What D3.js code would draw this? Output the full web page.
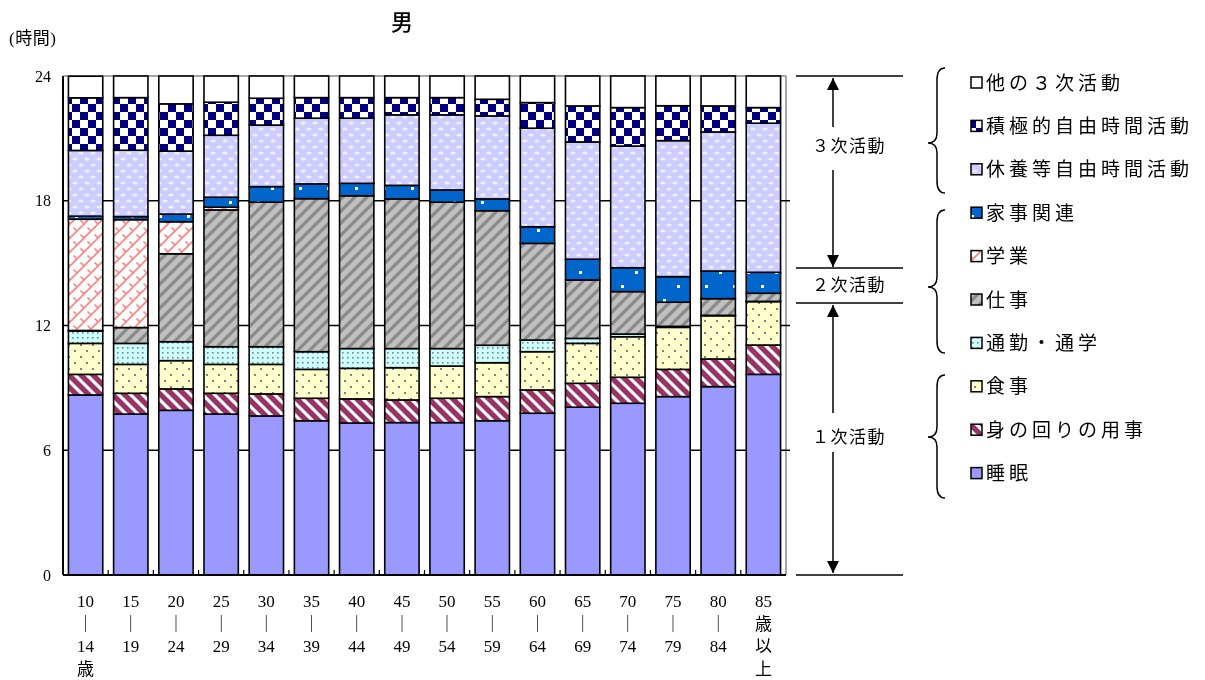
<!DOCTYPE html>
<html><head><meta charset="utf-8">
<script src="https://cdn.jsdelivr.net/npm/d3@7"></script>
<style>
body{margin:0;background:#fff;}
svg{display:block;will-change:transform;}
.jp{font-family:"Liberation Serif","Noto Sans CJK JP",serif;}
</style></head>
<body><svg id="c" width="1205" height="680"></svg>
<script>
// ---- data ----
const ageLabels = [
  ["10","｜","14","歳"],["15","｜","19"],["20","｜","24"],["25","｜","29"],
  ["30","｜","34"],["35","｜","39"],["40","｜","44"],["45","｜","49"],
  ["50","｜","54"],["55","｜","59"],["60","｜","64"],["65","｜","69"],
  ["70","｜","74"],["75","｜","79"],["80","｜","84"],["85","歳","以","上"]
];
const categories = ageLabels.map(d => d.join(""));
const seriesNames = ["睡眠","身の回りの用事","食事","通勤・通学","仕事","学業","家事関連","休養等自由時間活動","積極的自由時間活動","他の３次活動"];
const sleep    = [8.66,7.74,7.92,7.74,7.65,7.42,7.31,7.33,7.33,7.42,7.78,8.07,8.26,8.58,9.06,9.65];
const personal = [0.99,1.00,1.03,1.00,1.06,1.08,1.16,1.09,1.17,1.16,1.12,1.15,1.25,1.31,1.33,1.41];
const meal     = [1.49,1.39,1.36,1.39,1.42,1.39,1.47,1.55,1.55,1.63,1.84,1.92,1.95,2.02,2.08,2.09];
const commute  = [0.60,1.01,0.91,0.85,0.85,0.85,0.95,0.92,0.84,0.84,0.56,0.24,0.13,0.05,0.02,0.01];
const work     = [0.02,0.76,4.23,6.58,6.95,7.36,7.35,7.20,7.04,6.47,4.65,2.81,2.04,1.16,0.80,0.39];
const study    = [5.35,5.19,1.54,0.13,0,0,0,0,0,0,0,0,0,0,0,0];
const housework= [0.15,0.15,0.37,0.48,0.75,0.71,0.60,0.65,0.59,0.57,0.80,1.00,1.15,1.23,1.33,1.01];
const rest     = [3.16,3.19,3.03,2.98,2.96,3.16,3.13,3.39,3.61,3.99,4.74,5.64,5.85,6.54,6.69,7.17];
const active   = [2.53,2.53,2.27,1.59,1.29,0.99,0.99,0.83,0.83,0.80,1.23,1.73,1.85,1.68,1.25,0.75];
const other    = [1.04,1.04,1.34,1.26,1.07,1.04,1.04,1.04,1.04,1.12,1.28,1.44,1.52,1.43,1.44,1.52];
const seriesValues = [sleep,personal,meal,commute,work,study,housework,rest,active,other];
const yTicks = [0,6,12,18,24];
const groupBounds = [0,13.08,14.77,24];
const groupLabels = ["１次活動","２次活動","３次活動"];

// ---- build ----
const rows = categories.map((c,i)=>{const r={cat:c}; seriesNames.forEach((s,k)=>r[s]=seriesValues[k][i]); return r;});
const stacked = d3.stack().keys(seriesNames)(rows);

const svg = d3.select("#c");
const x = d3.scaleBand().domain(categories).range([63,786]).paddingInner(0.24).paddingOuter(0.12);
const y = d3.scaleLinear().domain([0,24]).range([575,76]);

// patterns
const defs = svg.append("defs");
function pat(id,w,h,draw){const p=defs.append("pattern").attr("id",id).attr("patternUnits","userSpaceOnUse").attr("width",w).attr("height",h); draw(p); return `url(#${id})`;}
const fills = {};
fills["睡眠"] = "#9999ff";
fills["身の回りの用事"] = pat("pPers",12,12,p=>{p.append("rect").attr("width",12).attr("height",12).attr("fill","#993366");
  p.append("path").attr("d","M-3,-3L15,15M-9,3L3,15M3,-9L15,3").attr("stroke","#fff").attr("stroke-width",3.2);});
fills["食事"] = pat("pMeal",12,12,p=>{p.append("rect").attr("width",12).attr("height",12).attr("fill","#ffffcc");
  p.append("rect").attr("x",2).attr("y",2).attr("width",2).attr("height",2).attr("fill","#808080");
  p.append("rect").attr("x",8).attr("y",8).attr("width",2).attr("height",2).attr("fill","#808080");});
fills["通勤・通学"] = pat("pComm",5,5,p=>{p.append("rect").attr("width",5).attr("height",5).attr("fill","#ccffff");
  p.append("rect").attr("x",2).attr("y",2).attr("width",1.6).attr("height",1.6).attr("fill","#808080");});
fills["仕事"] = pat("pWork",12,12,p=>{p.append("rect").attr("width",12).attr("height",12).attr("fill","#c0c0c0");
  p.append("path").attr("d","M-3,3L3,-3M0,12L12,0M9,15L15,9").attr("stroke","#8a8a8a").attr("stroke-width",3.2);});
fills["学業"] = pat("pStudy",14,14,p=>{p.append("rect").attr("width",14).attr("height",14).attr("fill","#fff");
  p.append("path").attr("d","M0,14L14,0M-7,7L7,-7M7,21L21,7M3.5,3.5L7,7M10.5,10.5L14,14").attr("stroke","#ff8080").attr("stroke-width",1.6).attr("fill","none");});
fills["家事関連"] = pat("pHouse",28,28,p=>{p.append("rect").attr("width",28).attr("height",28).attr("fill","#0066cc");
  p.append("rect").attr("x",5).attr("y",5).attr("width",3).attr("height",3).attr("fill","#fff");
  p.append("rect").attr("x",19).attr("y",19).attr("width",3).attr("height",3).attr("fill","#fff");});
fills["休養等自由時間活動"] = pat("pRest",12,12,p=>{p.append("rect").attr("width",12).attr("height",12).attr("fill","#ccccff");
  p.append("ellipse").attr("cx",3).attr("cy",3).attr("rx",2.6).attr("ry",1.6).attr("fill","#f0f0ff");
  p.append("ellipse").attr("cx",9).attr("cy",9).attr("rx",2.6).attr("ry",1.6).attr("fill","#f0f0ff");});
fills["積極的自由時間活動"] = pat("pAct",16,16,p=>{p.append("rect").attr("width",16).attr("height",16).attr("fill","#fff");
  p.append("rect").attr("width",8).attr("height",8).attr("fill","#000080");
  p.append("rect").attr("x",8).attr("y",8).attr("width",8).attr("height",8).attr("fill","#000080");});
fills["他の３次活動"] = "#ffffff";

// plot frame
svg.append("line").attr("x1",63).attr("x2",786).attr("y1",y(24)).attr("y2",y(24)).attr("stroke","#888").attr("stroke-width",1.5);
svg.append("line").attr("x1",786).attr("x2",786).attr("y1",y(24)).attr("y2",y(0)).attr("stroke","#888").attr("stroke-width",1.5);
// gridlines
svg.append("g").selectAll("line").data(yTicks.filter(t=>t>0&&t<24)).join("line")
  .attr("x1",63).attr("x2",790).attr("y1",d=>y(d)).attr("y2",d=>y(d)).attr("stroke","#000").attr("stroke-width",1.5);

// bars
const g = svg.append("g");
stacked.forEach(s=>{
  g.append("g").selectAll("rect").data(s.filter(d=>d[1]-d[0]>0.004)).join("rect")
    .attr("x",d=>x(d.data.cat)).attr("width",x.bandwidth())
    .attr("y",d=>y(d[1])).attr("height",d=>y(d[0])-y(d[1]))
    .attr("fill",fills[s.key]).attr("stroke","#000").attr("stroke-width",1.6);
});

// axes
svg.append("line").attr("x1",63).attr("x2",63).attr("y1",y(24)).attr("y2",y(0)).attr("stroke","#000").attr("stroke-width",2);
svg.append("line").attr("x1",63).attr("x2",786).attr("y1",y(0)).attr("y2",y(0)).attr("stroke","#000").attr("stroke-width",2);
const bounds = categories.slice(1).map(c=>x(c)-x.step()*x.paddingInner()/2);
svg.append("g").selectAll("line").data(bounds).join("line")
  .attr("x1",d=>d).attr("x2",d=>d).attr("y1",y(0)).attr("y2",y(0)-5).attr("stroke","#000").attr("stroke-width",1.2);
svg.append("g").selectAll("text").data(yTicks).join("text").attr("class","jp")
  .attr("x",51).attr("y",d=>y(d)).attr("dy","0.35em").attr("text-anchor","end").attr("font-size",16).text(d=>d);
svg.append("text").attr("class","jp").attr("x",9).attr("y",38).attr("dy","0.35em").attr("font-size",17).attr("letter-spacing",0.5).text("(時間)");
svg.append("text").attr("x",402).attr("y",22).attr("dy","0.35em").attr("text-anchor","middle")
  .attr("font-family","'Noto Sans CJK JP'").attr("font-size",22).attr("font-weight",500).text("男");

// x labels
const xl = svg.append("g");
ageLabels.forEach((lines,i)=>{
  const cx = x(categories[i])+x.bandwidth()/2;
  lines.forEach((t,j)=>{
    xl.append("text").attr("class","jp").attr("x",cx).attr("y",601+j*22.7).attr("dy","0.35em")
      .attr("text-anchor","middle").attr("font-size",17).attr("fill","#000").text(t);
  });
});

// group annotation
const ax = 833, lx0 = 796, lx1 = 903;
svg.append("g").selectAll("line").data(groupBounds).join("line")
  .attr("x1",lx0).attr("x2",lx1).attr("y1",d=>y(d)).attr("y2",d=>y(d)).attr("stroke","#000").attr("stroke-width",1.5);
defs.append("marker").attr("id","arr").attr("viewBox","0 0 10 10").attr("refX",10).attr("refY",5)
  .attr("markerWidth",12).attr("markerHeight",12).attr("markerUnits","userSpaceOnUse").attr("orient","auto")
  .append("path").attr("d","M0,0L10,5L0,10Z").attr("fill","#000");
function arrowSeg(yFrom,yTo,withMarker){
  const l=svg.append("line").attr("x1",ax).attr("x2",ax).attr("y1",yFrom).attr("y2",yTo).attr("stroke","#000").attr("stroke-width",1.5);
  if(withMarker) l.attr("marker-end","url(#arr)");
}
arrowSeg(y(24)+40, y(24)+2, true); arrowSeg(y(24)+40, y(24)+51, false);
arrowSeg(y(24)+94, y(groupBounds[2])-1, true);
arrowSeg(413, y(groupBounds[1])+2, true);
arrowSeg(452, y(0)-2, true);
const lblY = [437, (y(groupBounds[1])+y(groupBounds[2]))/2, 146];
svg.append("g").selectAll("text").data(groupLabels).join("text").attr("class","jp")
  .attr("x",849).attr("y",(d,i)=>lblY[i]).attr("dy","0.35em").attr("text-anchor","middle")
  .attr("font-size",17).attr("letter-spacing",1.5).text(d=>d);

// braces
function brace(top,tip,bot){
  const xr=945, xm=937, xt=928;
  return `M${xr},${top} Q${xm},${top} ${xm},${top+12} L${xm},${tip-10} Q${xm},${tip} ${xt},${tip} Q${xm},${tip} ${xm},${tip+10} L${xm},${bot-12} Q${xm},${bot} ${xr},${bot}`;
}
svg.append("g").selectAll("path").data([[68,143,193],[210,287,353],[375,437,498]]).join("path")
  .attr("d",d=>brace(...d)).attr("fill","none").attr("stroke","#000").attr("stroke-width",1.5);

// legend
const legendOrder = seriesNames.slice().reverse();
const lg = svg.append("g");
legendOrder.forEach((s,i)=>{
  const cy = 83 + i*43.4;
  lg.append("rect").attr("x",971).attr("y",cy-6).attr("width",11).attr("height",11)
    .attr("fill",fills[s]).attr("stroke","#000").attr("stroke-width",1.5);
  lg.append("text").attr("class","jp").attr("x",986).attr("y",cy).attr("dy","0.35em")
    .attr("font-size",19).attr("letter-spacing",4).text(s);
});
</script></body></html>
